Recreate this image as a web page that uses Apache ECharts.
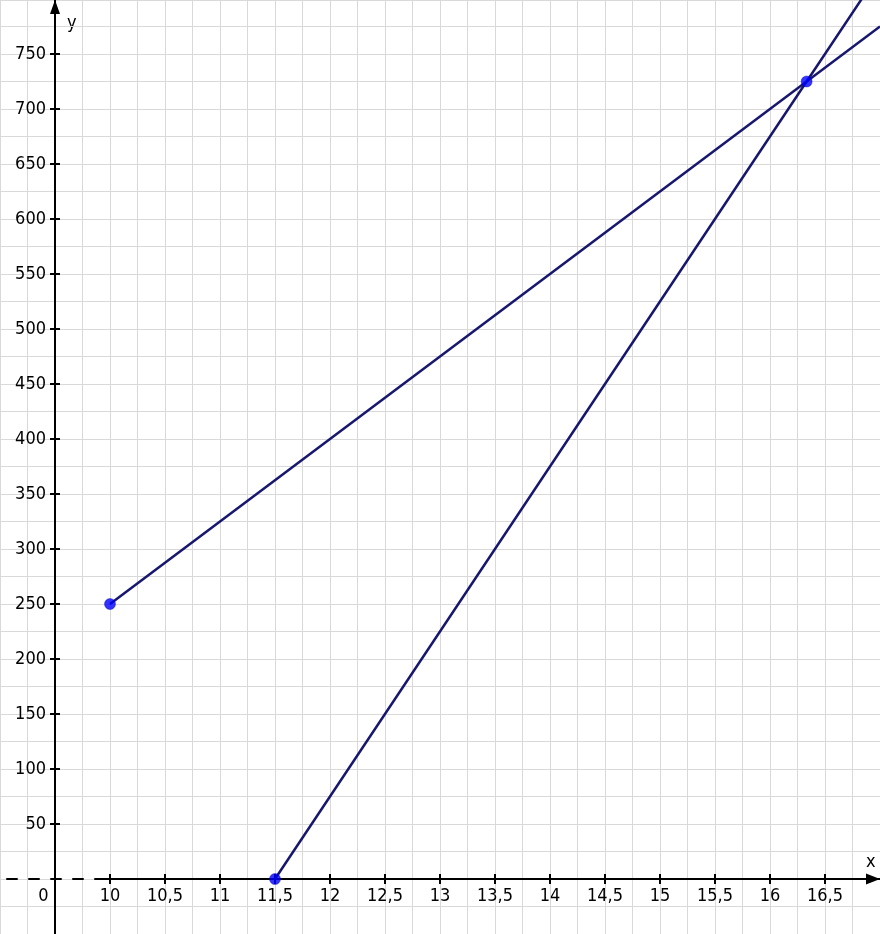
<!DOCTYPE html>
<html><head><meta charset="utf-8">
<script src="https://cdn.jsdelivr.net/npm/echarts@6/dist/echarts.min.js"></script>
<style>html,body{margin:0;padding:0;background:#fff}#c{width:880px;height:934px}</style>
</head><body><div id="c"></div>
<script>
// ---- data ----
const xRange = [9, 17];
const yRange = [-50, 799.1];
const yAxisAtX = 9.5;
const xTickValues = [10, 10.5, 11, 11.5, 12, 12.5, 13, 13.5, 14, 14.5, 15, 15.5, 16, 16.5];
const xLabelValues = [9.5, 10, 10.5, 11, 11.5, 12, 12.5, 13, 13.5, 14, 14.5, 15, 15.5, 16, 16.5];
const yTickValues = [50, 100, 150, 200, 250, 300, 350, 400, 450, 500, 550, 600, 650, 700, 750];
const line1 = [[10, 250], [16.333, 725], [17, 775]];
const line2 = [[11.5, 0], [16.333, 725], [16.84, 801]];
const points = [[10, 250], [11.5, 0], [16.333, 725]];
const xAxisSolidPart = [[9.87, 0], [17, 0]];

// ---- chart ----
const FONT = '"DejaVu Sans Condensed", "Liberation Sans", sans-serif';
const FS = 18;
const el = document.getElementById('c');
const chart = echarts.init(el, null, {renderer: 'canvas'});
const W = chart.getWidth();
const H = chart.getHeight();
const yOffset = -((yAxisAtX - xRange[0]) / (xRange[1] - xRange[0])) * W;
const upperBottom = H * (0 - yRange[0]) / (yRange[1] - yRange[0]);

const gridLine = {show: true, lineStyle: {color: '#d9d9d9', width: 1}};
const hidden = {show: false};
const tickStyle = {color: '#000', width: 2};

const option = {
  animation: false,
  backgroundColor: '#ffffff',
  grid: [
    {left: 0, right: 0, top: 0, bottom: 0, containLabel: false, outerBoundsMode: 'none'},
    {left: 0, right: 0, top: 0, bottom: upperBottom, containLabel: false, outerBoundsMode: 'none'}
  ],
  xAxis: [
    { // grid 0: vertical grid lines
      gridIndex: 0, type: 'value', min: xRange[0], max: xRange[1], interval: 0.25,
      position: 'bottom',
      axisLine: {show: false, onZero: false}, axisTick: hidden, axisLabel: hidden,
      splitLine: gridLine
    },
    { // grid 1: main x axis (at y = 0)
      gridIndex: 1, type: 'value', min: xRange[0], max: xRange[1], interval: 0.5,
      position: 'bottom',
      axisLine: {show: true, onZero: false,
        symbol: ['none', 'triangle'], symbolSize: [11, 14], symbolOffset: [0, -7],
        lineStyle: {color: '#000', width: 2, type: [10, 12], dashOffset: 15}},
      axisTick: {show: true, inside: false, length: 5, customValues: xTickValues, lineStyle: tickStyle},
      axisLabel: {show: true, customValues: xLabelValues, margin: 8,
        color: '#000', fontSize: FS, fontFamily: FONT,
        formatter: v => (Number(v) === yAxisAtX ? '{o|0}' : String(v).replace('.', ',')),
        rich: {o: {padding: [0, 23, 0, 0], color: '#000', fontSize: FS, fontFamily: FONT}}},
      splitLine: hidden
    },
    { // grid 1: inner half of x ticks
      gridIndex: 1, type: 'value', min: xRange[0], max: xRange[1], interval: 0.5,
      position: 'bottom',
      axisLine: {show: false, onZero: false},
      axisTick: {show: true, inside: true, length: 5, customValues: xTickValues, lineStyle: tickStyle},
      axisLabel: hidden, splitLine: hidden
    }
  ],
  yAxis: [
    { // grid 0: horizontal grid lines
      gridIndex: 0, type: 'value', min: yRange[0], max: yRange[1], interval: 25,
      position: 'left',
      axisLine: {show: false, onZero: false}, axisTick: hidden, axisLabel: hidden,
      splitLine: gridLine
    },
    { // grid 0: main y axis
      gridIndex: 0, type: 'value', min: yRange[0], max: yRange[1], interval: 50,
      position: 'left', offset: yOffset,
      axisLine: {show: true, onZero: false,
        symbol: ['none', 'triangle'], symbolSize: [10, 14], symbolOffset: [0, -7],
        lineStyle: {color: '#000', width: 2}},
      axisTick: {show: true, inside: false, length: 5, customValues: yTickValues, lineStyle: tickStyle},
      axisLabel: {show: true, customValues: yTickValues, margin: 9,
        color: '#000', fontSize: FS, fontFamily: FONT},
      splitLine: hidden
    },
    { // grid 0: inner half of y ticks
      gridIndex: 0, type: 'value', min: yRange[0], max: yRange[1], interval: 50,
      position: 'left', offset: yOffset,
      axisLine: {show: false, onZero: false},
      axisTick: {show: true, inside: true, length: 5, customValues: yTickValues, lineStyle: tickStyle},
      axisLabel: hidden, splitLine: hidden
    },
    { // grid 1: value axis for the plotted data (hidden)
      gridIndex: 1, type: 'value', min: 0, max: yRange[1], interval: 50,
      position: 'left',
      axisLine: {show: false, onZero: false}, axisTick: hidden, axisLabel: hidden, splitLine: hidden
    }
  ],
  graphic: [
    {type: 'text', left: 866, top: 853, style: {text: 'x', fill: '#000', font: '18px ' + FONT}},
    {type: 'text', left: 67, top: 14, style: {text: 'y', fill: '#000', font: '18px ' + FONT}}
  ],
  series: [
    {type: 'line', name: 'x-axis', data: xAxisSolidPart, xAxisIndex: 1, yAxisIndex: 3,
      symbol: 'none', z: 1, clip: false, silent: true, lineStyle: {color: '#000', width: 2}},
    {type: 'line', name: 'line1', data: line1, xAxisIndex: 1, yAxisIndex: 3,
      symbol: 'none', z: 3, clip: false, lineStyle: {color: '#17176f', width: 2.5}},
    {type: 'line', name: 'line2', data: line2, xAxisIndex: 1, yAxisIndex: 3,
      symbol: 'none', z: 3, clip: false, lineStyle: {color: '#17176f', width: 2.5}},
    {type: 'scatter', name: 'points', data: points, xAxisIndex: 1, yAxisIndex: 3,
      symbol: 'circle', symbolSize: 11, z: 5, clip: false,
      itemStyle: {color: '#0000ff', borderColor: '#0000b0', borderWidth: 0.5}}
  ]
};
chart.setOption(option);
</script>
</body></html>
